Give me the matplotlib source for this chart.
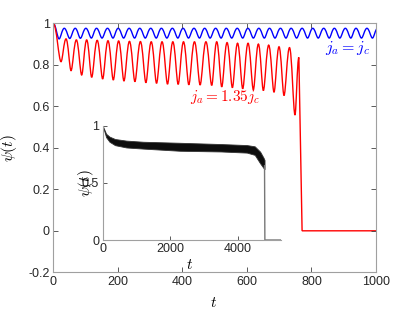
import matplotlib
matplotlib.use("Agg")
import matplotlib.pyplot as plt
from matplotlib.path import Path
from matplotlib.patches import PathPatch

plt.rcParams['font.family'] = ['Liberation Sans', 'DejaVu Sans']
plt.rcParams['mathtext.fontset'] = 'cm'

# ---------------- data ----------------
# blue curve j_a = j_c : successive extrema (time, value)
blue_t = [0, 18, 34, 51, 68, 84, 101, 118, 134, 151, 168, 185, 201, 218, 235,
          252, 268, 285, 302, 319, 335, 352, 369, 386, 402, 419, 436, 453, 469,
          486, 503, 520, 536, 553, 570, 587, 603, 620, 637, 654, 670, 687, 704,
          721, 737, 754, 771, 788, 804, 821, 838, 855, 871, 888, 905, 922, 938,
          955, 972, 989, 1005]
blue_v = [1.0, 0.925, 0.976, 0.927, 0.976, 0.928, 0.976, 0.929, 0.976, 0.929,
          0.976, 0.929, 0.976, 0.929, 0.976, 0.929, 0.976, 0.929, 0.976, 0.929,
          0.976, 0.929, 0.976, 0.929, 0.976, 0.929, 0.976, 0.929, 0.976, 0.929,
          0.976, 0.929, 0.976, 0.929, 0.976, 0.929, 0.976, 0.929, 0.976, 0.929,
          0.976, 0.929, 0.976, 0.929, 0.976, 0.929, 0.976, 0.929, 0.976, 0.929,
          0.976, 0.929, 0.976, 0.929, 0.976, 0.929, 0.976, 0.929, 0.976, 0.929,
          0.976]

# red curve j_a = 1.35 j_c : successive extrema, then collapse to zero
red_t = [0, 24, 39.5, 55, 71.5, 88, 103.5, 119, 136, 153, 169.5, 186, 202.5,
         219, 236, 253, 270, 287, 303.5, 320, 337, 354, 370.5, 387, 403.5, 420,
         437.5, 455, 473, 491, 506.5, 522, 538.5, 555, 571, 587, 603.5, 620,
         635.5, 651, 667.5, 684, 699.5, 715, 732, 749, 761, 771, 1000]
red_v = [1.0, 0.815, 0.925, 0.772, 0.92, 0.751, 0.92, 0.740, 0.918, 0.732,
         0.916, 0.727, 0.915, 0.722, 0.913, 0.719, 0.912, 0.714, 0.911, 0.711,
         0.911, 0.707, 0.911, 0.706, 0.911, 0.704, 0.911, 0.703, 0.911, 0.701,
         0.911, 0.694, 0.907, 0.690, 0.904, 0.685, 0.904, 0.680, 0.900, 0.676,
         0.895, 0.668, 0.887, 0.652, 0.883, 0.558, 0.836, 0.0, 0.0]
red_n_osc = 47  # number of leading points that are oscillation extrema

# inset: envelope of the dense oscillation
inset_t = [0, 100, 200, 365, 700, 1200, 2290, 3500, 4266, 4500, 4660, 4760, 4790]
inset_up = [1.0, 0.93, 0.905, 0.884, 0.87, 0.86, 0.851, 0.84, 0.831, 0.82,
            0.773, 0.72, 0.70]
inset_lo = [1.0, 0.90, 0.86, 0.83, 0.81, 0.80, 0.781, 0.775, 0.765, 0.745,
            0.671, 0.63, 0.62]
inset_drop_t = [4790, 4800, 5270]
inset_drop_v = [0.65, 0.0, 0.0]

xticks = [0, 200, 400, 600, 800, 1000]
yticks = [1, 0.8, 0.6, 0.4, 0.2, 0, -0.2]
ylabels = ['1', '0.8', '0.6', '0.4', '0.2', '0', '-0.2']
in_xticks = [0, 2000, 4000]
in_yticks = [0, 0.5, 1]
in_ylabels = ['0', '0.5', '1']


def smooth_path(ts, vs, n_osc, k_peak=0.42, k_trough=0.30):
    verts = [(ts[0], vs[0])]
    codes = [Path.MOVETO]
    for i in range(1, len(ts)):
        t0, v0 = ts[i - 1], vs[i - 1]
        t1, v1 = ts[i], vs[i]
        if i < n_osc:
            dt = t1 - t0
            k0 = k_peak if v0 > v1 else k_trough
            k1 = k_peak if v1 > v0 else k_trough
            verts += [(t0 + k0 * dt, v0), (t1 - k1 * dt, v1), (t1, v1)]
            codes += [Path.CURVE4] * 3
        else:
            verts.append((t1, v1))
            codes.append(Path.LINETO)
    return Path(verts, codes)


fig = plt.figure(figsize=(4.15, 3.13), dpi=100)
ax = fig.add_axes([0.1284, 0.130, 0.7776, 0.7955])

ax.add_patch(PathPatch(smooth_path(blue_t, blue_v, len(blue_t)), fill=False,
                       edgecolor='#0000ff', lw=1.0))
ax.add_patch(PathPatch(smooth_path(red_t, red_v, red_n_osc), fill=False,
                       edgecolor='#ff0000', lw=1.0))

ax.set_xlim(0, 1000)
ax.set_ylim(-0.2, 1.0)
ax.set_xticks(xticks)
ax.set_xticklabels([str(v) for v in xticks])
ax.set_yticks(yticks)
ax.set_yticklabels(ylabels)

axis_col = '#a0a0a0'
for s in ax.spines.values():
    s.set_color(axis_col)
    s.set_linewidth(0.8)
ax.tick_params(direction='in', length=3.5, width=0.6, color='#404040',
               labelsize=9, labelcolor='#262626', top=True, right=True,
               pad=2.5)

ax.set_xlabel(r'$t$', fontsize=11)
ax.xaxis.set_label_coords(0.498, -0.095)
ax.set_ylabel(r'$\psi(t)$', fontsize=11)
ax.yaxis.set_label_coords(-0.106, 0.5)

ax.text(913, 0.881, r'$j_a = j_c$', color='#0000ff', fontsize=11.5,
        ha='center', va='center')
ax.text(532, 0.645, r'$j_a = 1.35j_c$', color='#ff0000', fontsize=11,
        ha='center', va='center')

# ---------------- inset ----------------
axi = fig.add_axes([0.2475, 0.2332, 0.429, 0.365])
axi.fill_between(inset_t, inset_lo, inset_up, color='#0d0d0d', lw=0.6,
                 edgecolor='#333333')
axi.plot(inset_drop_t, inset_drop_v, color='#777777', lw=1.0)
axi.set_xlim(0, 5270)
axi.set_ylim(0, 1)
axi.set_xticks(in_xticks)
axi.set_xticklabels([str(v) for v in in_xticks])
axi.set_yticks(in_yticks)
axi.set_yticklabels(in_ylabels)
axi.spines['top'].set_visible(False)
axi.spines['right'].set_visible(False)
for s in ['left', 'bottom']:
    axi.spines[s].set_color(axis_col)
    axi.spines[s].set_linewidth(0.8)
axi.tick_params(direction='in', length=3, width=0.6, color='#404040',
                labelsize=9, labelcolor='#262626', pad=2.5)
axi.set_xlabel(r'$t$', fontsize=11)
axi.xaxis.set_label_coords(0.49, -0.16)
axi.set_ylabel(r'$\psi(t)$', fontsize=11)
axi.yaxis.set_label_coords(-0.035, 0.5)

fig.savefig('out.png', dpi=100)
